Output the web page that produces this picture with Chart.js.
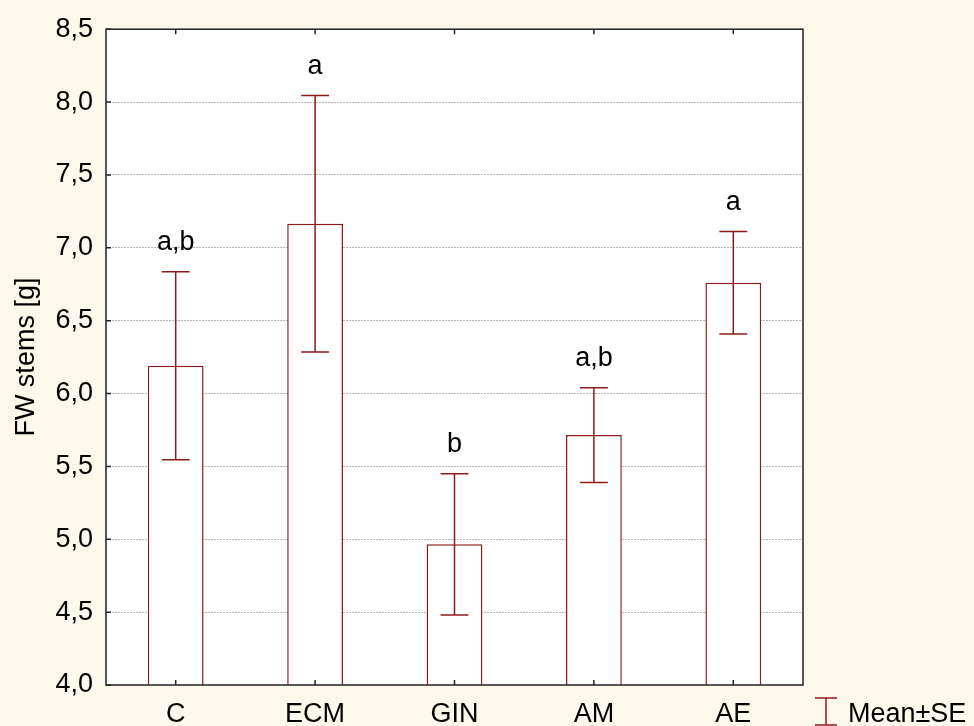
<!DOCTYPE html>
<html>
<head>
<meta charset="utf-8">
<script src="https://cdn.jsdelivr.net/npm/chart.js@4.4.0/dist/chart.umd.min.js"></script>
<style>
  body { margin: 0; background: #FDF8EC; }
  #wrap { width: 974px; height: 726px; position: relative; }
</style>
</head>
<body>
<div id="wrap"><canvas id="fwChart"></canvas></div>
<script>
const grupos = ['C', 'ECM', 'GIN', 'AM', 'AE'];
const medias = [6.19, 7.165, 4.965, 5.715, 6.76];
const errores = [0.645, 0.88, 0.485, 0.325, 0.352];
const letras = ['a,b', 'a', 'b', 'a,b', 'a'];
const yTicks = [4.0, 4.5, 5.0, 5.5, 6.0, 6.5, 7.0, 7.5, 8.0, 8.5];

const rojo = '#8E1B1B';
const fuente = '"Liberation Sans", Arial, sans-serif';
const tam = 27;

// fondo crema de toda la figura
const fondo = {
    id: 'fondo',
    beforeDraw(chart) {
        const ctx = chart.ctx;
        ctx.save();
        ctx.fillStyle = '#FDF8EC';
        ctx.fillRect(0, 0, chart.width, chart.height);
        const a = chart.chartArea;
        ctx.fillStyle = '#FFFFFF';
        ctx.fillRect(a.left, a.top, a.right - a.left, a.bottom - a.top);
        ctx.restore();
    }
};

// barras de error, letras, marco, ticks hacia dentro y leyenda
const extras = {
    id: 'extras',
    afterDatasetsDraw(chart) {
        const ctx = chart.ctx;
        const y = chart.scales.y;
        const x = chart.scales.x;
        const a = chart.chartArea;
        const meta = chart.getDatasetMeta(0);

        ctx.save();
        meta.data.forEach((bar, i) => {
            const px = bar.x;
            const cap = bar.width / 4;
            const yArriba = y.getPixelForValue(medias[i] + errores[i]);
            const yAbajo = y.getPixelForValue(medias[i] - errores[i]);
            ctx.strokeStyle = rojo;
            ctx.lineWidth = 1.5;
            ctx.beginPath();
            ctx.moveTo(px, yArriba);
            ctx.lineTo(px, yAbajo);
            ctx.moveTo(px - cap, yArriba);
            ctx.lineTo(px + cap, yArriba);
            ctx.moveTo(px - cap, yAbajo);
            ctx.lineTo(px + cap, yAbajo);
            ctx.stroke();

            ctx.fillStyle = '#000';
            ctx.font = tam + 'px ' + fuente;
            ctx.textAlign = 'center';
            ctx.textBaseline = 'middle';
            ctx.fillText(letras[i], px, yArriba - 29);
        });

        // marco
        ctx.strokeStyle = '#222';
        ctx.lineWidth = 1.5;
        ctx.strokeRect(a.left, a.top, a.right - a.left, a.bottom - a.top);

        // ticks hacia dentro
        ctx.lineWidth = 1.5;
        ctx.beginPath();
        yTicks.forEach(v => {
            const py = y.getPixelForValue(v);
            ctx.moveTo(a.left, py);
            ctx.lineTo(a.left + 5, py);
        });
        grupos.forEach((g, i) => {
            const px = x.getPixelForValue(i);
            ctx.moveTo(px, a.bottom);
            ctx.lineTo(px, a.bottom - 5);
            ctx.moveTo(px, a.top);
            ctx.lineTo(px, a.top + 5);
        });
        ctx.stroke();

        // leyenda
        ctx.strokeStyle = rojo;
        ctx.lineWidth = 1.5;
        ctx.beginPath();
        ctx.moveTo(826, 698);
        ctx.lineTo(826, 725);
        ctx.moveTo(815, 698);
        ctx.lineTo(837, 698);
        ctx.moveTo(815, 725);
        ctx.lineTo(837, 725);
        ctx.stroke();
        ctx.fillStyle = '#000';
        ctx.font = tam + 'px ' + fuente;
        ctx.textAlign = 'left';
        ctx.textBaseline = 'alphabetic';
        ctx.fillText('Mean\u00B1SE', 848, 722);
        ctx.restore();
    }
};

new Chart(document.getElementById('fwChart'), {
    type: 'bar',
    data: {
        labels: grupos,
        datasets: [{
            label: 'Mean\u00B1SE',
            data: medias,
            backgroundColor: '#FFFFFF',
            borderColor: rojo,
            borderWidth: 1.5,
            barPercentage: 0.4,
            categoryPercentage: 1.0
        }]
    },
    options: {
        responsive: true,
        maintainAspectRatio: false,
        animation: false,
        layout: { padding: { top: 24, right: 171, left: 0, bottom: 0 } },
        plugins: {
            legend: { display: false },
            tooltip: { enabled: false }
        },
        scales: {
            x: {
                grid: { display: false },
                border: { display: false },
                ticks: {
                    color: '#000',
                    font: { size: tam, family: fuente },
                    padding: 5,
                    maxRotation: 0
                },
                afterFit(scale) { scale.height = 41; }
            },
            y: {
                min: 4,
                max: 8.5,
                afterBuildTicks(scale) {
                    scale.ticks = yTicks.map(v => ({ value: v }));
                },
                grid: {
                    drawTicks: false,
                    color: (c) => (c.tick && (c.tick.value === 4 || c.tick.value === 8.5)) ? 'rgba(0,0,0,0)' : '#B4B4B4',
                    lineWidth: 1
                },
                border: { display: false, dash: [2, 1] },
                ticks: {
                    color: '#000',
                    font: { size: tam, family: fuente },
                    padding: 13,
                    callback: (v) => Number(v).toFixed(1).replace('.', ',')
                },
                title: {
                    display: true,
                    text: 'FW stems [g]',
                    color: '#000',
                    font: { size: tam, family: fuente },
                    padding: { top: 10, bottom: 0 }
                },
                afterFit(scale) { scale.width = 106; }
            }
        }
    },
    plugins: [fondo, extras]
});
</script>
</body>
</html>
